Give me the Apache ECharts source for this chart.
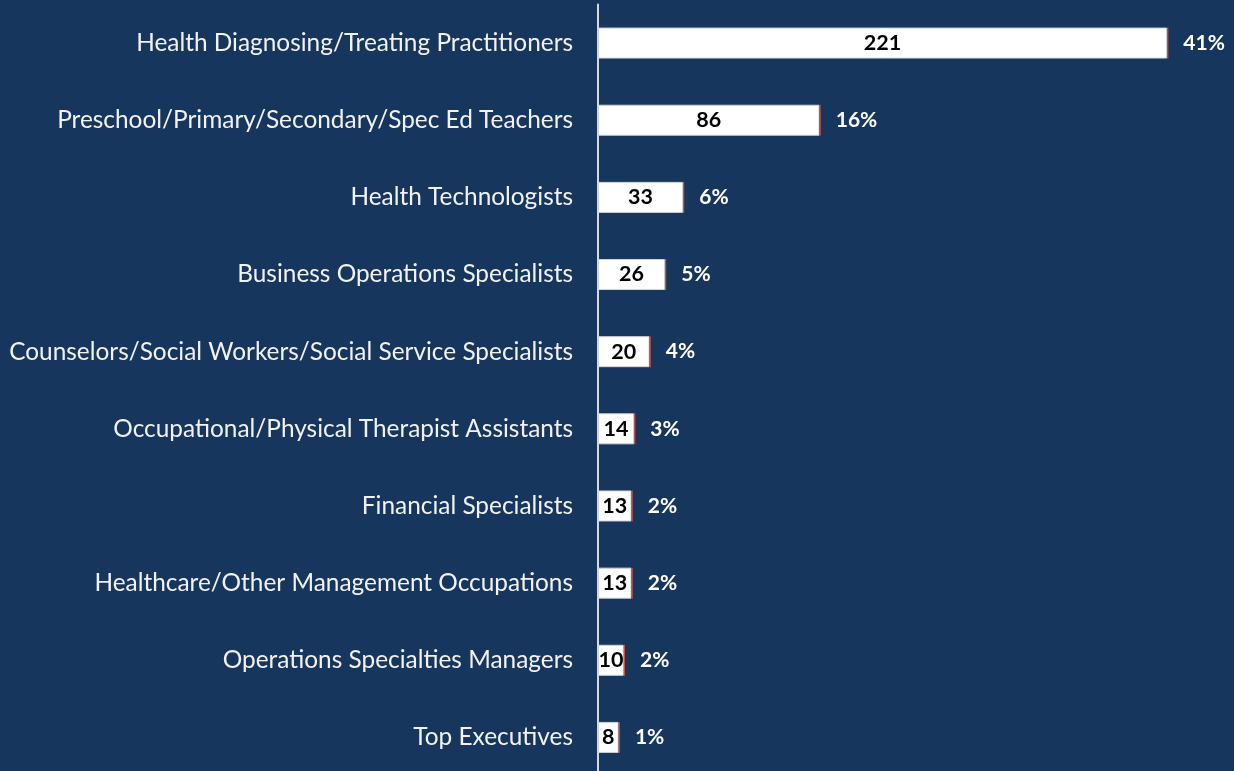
<!DOCTYPE html>
<html>
<head>
<meta charset="utf-8">
<script src="https://cdn.jsdelivr.net/npm/echarts@6/dist/echarts.min.js"></script>
<style>
  html, body { margin: 0; padding: 0; background: #17365d; overflow: hidden; }
  #chart { width: 1234px; height: 776px; }
</style>
</head>
<body>
<div id="chart"></div>
<script>
const categories = [
  'Health Diagnosing/Treating Practitioners',
  'Preschool/Primary/Secondary/Spec Ed Teachers',
  'Health Technologists',
  'Business Operations Specialists',
  'Counselors/Social Workers/Social Service Specialists',
  'Occupational/Physical Therapist Assistants',
  'Financial Specialists',
  'Healthcare/Other Management Occupations',
  'Operations Specialties Managers',
  'Top Executives'
]
const counts = [221, 86, 33, 26, 20, 14, 13, 13, 10, 8]
const percents = ['41%', '16%', '6%', '5%', '4%', '3%', '2%', '2%', '2%', '1%']

// thin red edge at the end of each bar
const edge = counts.map(() => 0.5)

const font = 'Lato, "Open Sans", sans-serif'

// the plot runs a few pixels past the bottom of the window, as in the original
var myChart = echarts.init(document.getElementById('chart'), null, {
  width: 1234,
  height: 776
})

myChart.setOption({
  backgroundColor: '#17365d',
  animation: false,
  grid: {
    left: 598,
    right: 18,
    top: 4.5,
    bottom: 0
  },
  xAxis: {
    type: 'value',
    min: 0,
    max: 240,
    show: false
  },
  yAxis: {
    type: 'category',
    inverse: true,
    data: categories,
    axisLine: { show: true, lineStyle: { color: '#d9d9d9', width: 2 } },
    axisTick: { show: false },
    axisLabel: {
      color: '#f2f2f2',
      fontFamily: font,
      fontSize: 24.4,
      margin: 25
    }
  },
  series: [
    {
      type: 'bar',
      stack: 'a',
      data: counts,
      barWidth: 31,
      itemStyle: { color: '#ffffff', borderColor: '#d0d4da', borderWidth: 1 },
      label: {
        show: true,
        position: 'inside',
        color: '#000000',
        fontFamily: font,
        fontWeight: 'bold',
        fontSize: 21.5
      }
    },
    {
      type: 'bar',
      stack: 'a',
      data: edge,
      barWidth: 31,
      itemStyle: { color: '#c0504d' },
      label: {
        show: true,
        position: 'right',
        distance: 15,
        color: '#ffffff',
        fontFamily: font,
        fontWeight: 'bold',
        fontSize: 21,
        formatter: p => percents[p.dataIndex]
      }
    }
  ]
})
</script>
</body>
</html>
